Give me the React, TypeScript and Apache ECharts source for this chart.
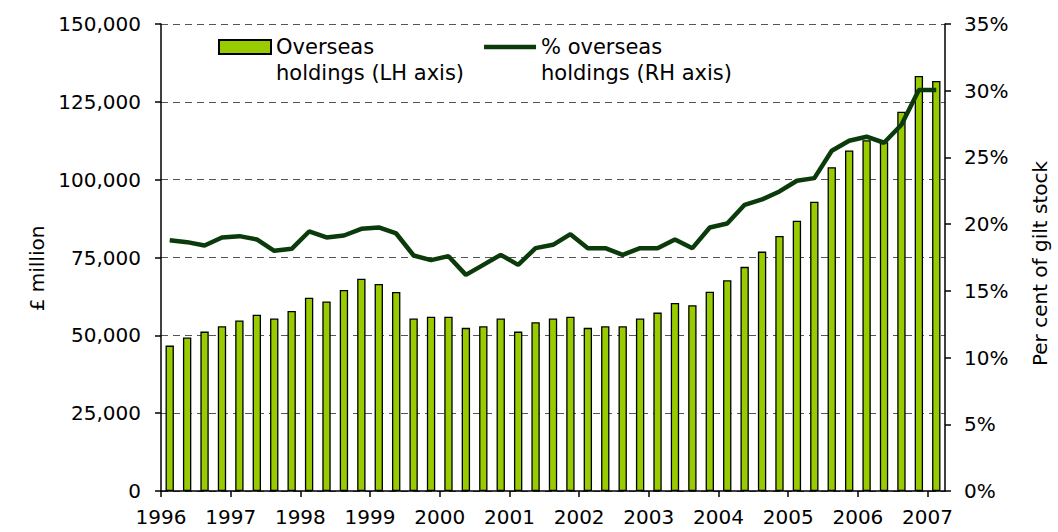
import React, { useEffect, useRef } from "react";
import * as echarts from "echarts";

const YEARS = ["1996", "1997", "1998", "1999", "2000", "2001", "2002", "2003", "2004", "2005", "2006", "2007"];
const QUARTERS = ["Q1", "Q2", "Q3", "Q4"];
const CATEGORIES = YEARS.flatMap((y) => QUARTERS.map((q) => `${y} ${q}`)).slice(0, 45);

// £ million (LH axis)
const OVERSEAS_HOLDINGS = [
  46700, 49300, 51200, 52900, 54800, 56600, 55400, 57800,
  62100, 60900, 64600, 68200, 66500, 63900, 55400, 56000,
  56000, 52400, 52900, 55400, 51200, 54200, 55400, 56000,
  52400, 52900, 52900, 55400, 57300, 60400, 59700, 64000,
  67700, 72000, 76900, 81900, 86800, 92900, 104000, 109400,
  112700, 112000, 121800, 133300, 131700,
];

// % of gilt stock (RH axis)
const OVERSEAS_SHARE = [
  18.8, 18.65, 18.4, 19.0, 19.1, 18.85, 18.0, 18.15,
  19.45, 19.0, 19.15, 19.65, 19.75, 19.3, 17.65, 17.3,
  17.6, 16.2, 16.95, 17.7, 16.95, 18.2, 18.45, 19.25,
  18.2, 18.2, 17.7, 18.2, 18.2, 18.85, 18.2, 19.75,
  20.05, 21.45, 21.85, 22.45, 23.25, 23.45, 25.5, 26.25,
  26.55, 26.1, 27.45, 30.05, 30.05,
];

const BAR_NAME = "Overseas holdings (LH axis)";
const LINE_NAME = "% overseas holdings (RH axis)";
const YEAR_TICKS = YEARS.map((_, i) => i * 4);

const FONT = "DejaVu Sans";
const LINE_COLOR = "#0b3b0b";

export default function App() {
  const ref = useRef<HTMLDivElement>(null);

  useEffect(() => {
    if (!ref.current) return;
    const chart = echarts.init(ref.current, undefined, { renderer: "svg" });
    chart.setOption({
      animation: false,
      backgroundColor: "#ffffff",
      textStyle: { fontFamily: FONT },
      grid: { left: 161, right: 105, top: 24, bottom: 41 },
      legend: {
        left: 218,
        top: 8,
        padding: 0,
        itemWidth: 52,
        itemHeight: 14,
        itemGap: 20,
        selectedMode: false,
        symbolKeepAspect: true,
        formatter: (name: string) => " \n" + name.replace(" holdings", "\nholdings"),
        textStyle: {
          fontFamily: FONT,
          fontSize: 21,
          color: "#000",
          lineHeight: 26,
        },
        data: [
          { name: BAR_NAME, icon: "rect" },
          {
            name: LINE_NAME,
            icon: "path://M0,0H56V4.6H0Z",
            itemStyle: { color: LINE_COLOR, borderWidth: 0 },
          },
        ],
      },
      xAxis: [
        {
          type: "category",
          data: CATEGORIES,
          position: "bottom",
          boundaryGap: true,
          axisLine: { show: true, lineStyle: { color: "#000", width: 1.5 } },
          axisTick: { show: false },
          axisLabel: { show: false },
          splitLine: { show: false },
        },
        {
          type: "value",
          position: "bottom",
          min: 0,
          max: CATEGORIES.length,
          interval: 4,
          axisLine: { show: false },
          splitLine: { show: false },
          axisTick: {
            show: true,
            customValues: YEAR_TICKS,
            length: 6,
            lineStyle: { color: "#000", width: 1.5 },
          },
          axisLabel: {
            customValues: YEAR_TICKS,
            margin: 16,
            fontSize: 20,
            fontFamily: FONT,
            color: "#000",
            formatter: (v: number) => YEARS[v / 4] ?? "",
          },
        },
      ],
      yAxis: [
        {
          type: "value",
          position: "left",
          min: 0,
          max: 150000,
          interval: 25000,
          name: "£ million",
          nameLocation: "middle",
          nameGap: 91,
          nameTextStyle: { fontSize: 20, fontFamily: FONT, color: "#000", padding: [0, 22, 0, 0] },
          axisLine: { show: true, lineStyle: { color: "#000", width: 1.5 } },
          axisTick: { show: true, length: 6, lineStyle: { color: "#000", width: 1.5 } },
          axisLabel: {
            margin: 20,
            fontSize: 20,
            fontFamily: FONT,
            color: "#000",
            formatter: (v: number) => v.toLocaleString("en-US"),
          },
          splitLine: { show: true, lineStyle: { color: "#555555", width: 1.2, type: [7, 5] } },
        },
        {
          type: "value",
          position: "right",
          min: 0,
          max: 35,
          interval: 5,
          name: "Per cent of gilt stock",
          nameLocation: "middle",
          nameGap: 85,
          nameTextStyle: { fontSize: 20, fontFamily: FONT, color: "#000", padding: [0, 12, 0, 0] },
          axisLine: { show: true, lineStyle: { color: "#000", width: 1.5 } },
          axisTick: { show: true, length: 6, lineStyle: { color: "#000", width: 1.5 } },
          axisLabel: {
            margin: 19,
            fontSize: 20,
            fontFamily: FONT,
            color: "#000",
            formatter: "{value}%",
          },
          splitLine: { show: false },
        },
      ],
      series: [
        {
          name: BAR_NAME,
          type: "bar",
          xAxisIndex: 0,
          yAxisIndex: 0,
          data: OVERSEAS_HOLDINGS,
          barWidth: "48%",
          itemStyle: { color: "#99cc00", borderColor: "#000", borderWidth: 1.3 },
        },
        {
          name: LINE_NAME,
          type: "line",
          xAxisIndex: 0,
          yAxisIndex: 1,
          data: OVERSEAS_SHARE,
          symbol: "none",
          smooth: false,
          lineStyle: { color: LINE_COLOR, width: 4.5 },
          itemStyle: { color: LINE_COLOR },
          z: 5,
        },
      ],
    });
    return () => chart.dispose();
  }, []);

  return (
    <div
      ref={ref}
      style={{ position: "fixed", left: 0, top: 0, width: 1058, height: 532, background: "#fff" }}
    />
  );
}
